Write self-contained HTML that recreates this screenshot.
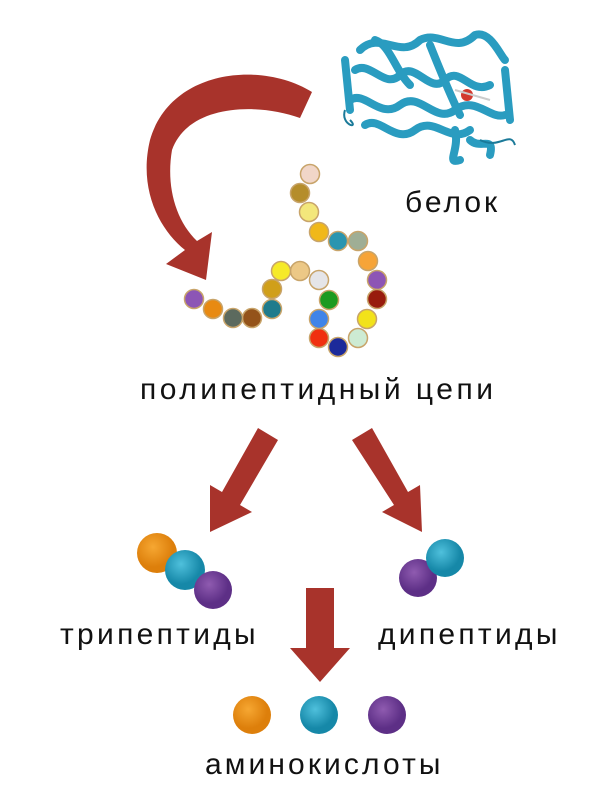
<!DOCTYPE html>
<html><head><meta charset="utf-8"><style>
html,body{margin:0;padding:0;background:#fff;}
body{width:612px;height:800px;overflow:hidden;position:relative;}
.t{position:absolute;font-family:"Liberation Sans","DejaVu Sans",sans-serif;color:#111;white-space:nowrap;letter-spacing:3px;font-size:30px;line-height:1;}
</style></head><body>
<svg width="612" height="800" style="position:absolute;left:0;top:0">
<defs>
<radialGradient id="or" cx="40%" cy="35%"><stop offset="0" stop-color="#f6a732"/><stop offset="1" stop-color="#dd7f0b"/></radialGradient>
<radialGradient id="te" cx="40%" cy="35%"><stop offset="0" stop-color="#4fc0dc"/><stop offset="1" stop-color="#1688a8"/></radialGradient>
<radialGradient id="pu" cx="40%" cy="35%"><stop offset="0" stop-color="#8f5bb0"/><stop offset="1" stop-color="#5d2f86"/></radialGradient>
</defs>
<path d="M312,92 C260,60 170,70 150,140 C138,190 160,230 185,250 L166,264 L206,280 L212,232 L197,241 C175,220 166,185 172,150 C188,105 255,102 300,118 Z" fill="#a8332b"/>
<g fill="none" stroke="#2a9cc0" stroke-width="8" stroke-linecap="round" stroke-linejoin="round">
<path d="M360,50 C380,30 400,60 420,40 C440,30 455,55 475,35 C490,30 500,55 505,60"/>
<path d="M355,70 C370,60 385,90 400,75 C415,60 430,95 445,80 C460,65 470,95 490,85"/>
<path d="M350,100 C365,90 380,120 400,105 C420,90 435,125 455,110 C475,95 490,120 505,115"/>
<path d="M365,125 C380,115 395,145 415,130 C435,115 450,145 470,130"/>
<path d="M345,60 L350,110 M505,70 L510,120 M455,130 C460,150 445,165 460,160"/>
<path d="M375,40 C390,45 395,70 410,85 M430,45 C440,70 450,95 460,115"/>
<path d="M470,140 C480,150 495,135 490,155"/>
</g>
<g fill="none" stroke="#1b7a99" stroke-width="2">
<path d="M345,110 C340,125 360,130 350,120 M480,140 C500,150 510,130 515,145"/>
</g>
<circle cx="467" cy="95" r="6" fill="#d23a2f"/>
<path d="M455,90 L490,100" stroke="#ccc" stroke-width="2"/>
<g stroke="#c8a46a" stroke-width="1.5">
<circle cx="310" cy="174" r="9.5" fill="#f1d6c8"/>
<circle cx="300" cy="193" r="9.5" fill="#b58d2b"/>
<circle cx="309" cy="212" r="9.5" fill="#f3e77b"/>
<circle cx="319" cy="232" r="9.5" fill="#f0b81a"/>
<circle cx="338" cy="241" r="9.5" fill="#2a95b0"/>
<circle cx="358" cy="241" r="9.5" fill="#9fae95"/>
<circle cx="368" cy="261" r="9.5" fill="#f6a438"/>
<circle cx="377" cy="280" r="9.5" fill="#8d55b5"/>
<circle cx="377" cy="299" r="9.5" fill="#981c0d"/>
<circle cx="367" cy="319" r="9.5" fill="#f2e21a"/>
<circle cx="358" cy="338" r="9.5" fill="#cdebd3"/>
<circle cx="338" cy="347" r="9.5" fill="#1c2a9a"/>
<circle cx="319" cy="338" r="9.5" fill="#f0300f"/>
<circle cx="319" cy="319" r="9.5" fill="#3f84e8"/>
<circle cx="329" cy="300" r="9.5" fill="#1c9a20"/>
<circle cx="319" cy="280" r="9.5" fill="#e5e5e8"/>
<circle cx="300" cy="271" r="9.5" fill="#ecc886"/>
<circle cx="281" cy="271" r="9.5" fill="#f6ea28"/>
<circle cx="272" cy="289" r="9.5" fill="#d09f1a"/>
<circle cx="272" cy="309" r="9.5" fill="#1f7b8c"/>
<circle cx="252" cy="318" r="9.5" fill="#94531a"/>
<circle cx="233" cy="318" r="9.5" fill="#5c6a5e"/>
<circle cx="213" cy="309" r="9.5" fill="#e88a12"/>
<circle cx="194" cy="299" r="9.5" fill="#8c55b5"/>
</g>
<g fill="#a8332b">
<path d="M258,428 L278,440 L240,505 L252,512 L210,532 L210,485 L222,492 L258,428 Z"/>
<path d="M352,440 L372,428 L408,492 L420,485 L422,532 L382,512 L394,505 Z"/>
<path d="M306,588 L334,588 L334,648 L350,648 L320,682 L290,648 L306,648 Z"/>
</g>
<circle cx="157" cy="553" r="20" fill="url(#or)"/>
<circle cx="185" cy="570" r="20" fill="url(#te)"/>
<circle cx="213" cy="590" r="19" fill="url(#pu)"/>
<circle cx="418" cy="578" r="19" fill="url(#pu)"/>
<circle cx="445" cy="558" r="19" fill="url(#te)"/>
<circle cx="252" cy="715" r="19" fill="url(#or)"/>
<circle cx="319" cy="715" r="19" fill="url(#te)"/>
<circle cx="387" cy="715" r="19" fill="url(#pu)"/>
</svg>
<div class="t" style="left:405px;top:188px;">белок</div>
<div class="t" style="left:140px;top:375px;letter-spacing:3.5px;">полипептидный цепи</div>
<div class="t" style="left:60px;top:620px;letter-spacing:3.3px;">трипептиды</div>
<div class="t" style="left:378px;top:620px;letter-spacing:3.3px;">дипептиды</div>
<div class="t" style="left:205px;top:750px;letter-spacing:3.1px;">аминокислоты</div>
</body></html>
